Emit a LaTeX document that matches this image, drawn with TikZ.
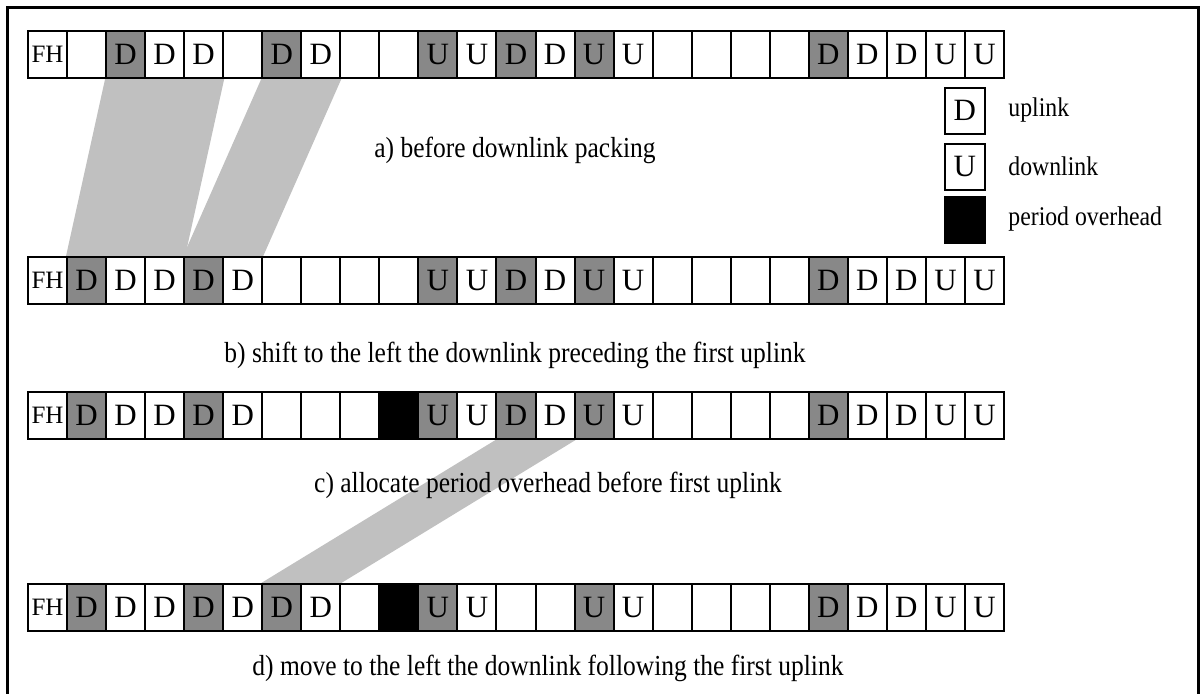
\documentclass[tikz,border=0pt]{standalone}
\usepackage{fontspec}
\setmainfont{Liberation Serif}
\newfontfamily\condfont[FakeStretch=0.88]{Liberation Serif}
\usetikzlibrary{backgrounds}
\definecolor{cellgray}{RGB}{136,136,136}
\definecolor{shadegray}{RGB}{192,192,192}
\tikzset{
  cell/.style={draw, line width=1pt, minimum width=19.52pt, minimum height=23.5pt,
    inner sep=0pt, anchor=north west, font=\fontsize{15.5}{15.5}\selectfont},
  fhcell/.style={cell, font=\fontsize{12.5}{12.5}\selectfont},
  dcell/.style={cell, fill=cellgray},
  ocell/.style={cell, fill=black},
  legbox/.style={draw, line width=0.8pt, minimum width=20pt, minimum height=23pt,
    inner sep=0pt, anchor=north west, font=\fontsize{15.5}{15.5}\selectfont},
  legtext/.style={anchor=west, inner sep=0pt, font=\condfont\fontsize{13.5}{14}\selectfont},
  caption/.style={font=\condfont\fontsize{14.5}{16}\selectfont, inner sep=0pt},
  shade/.style={fill=shadegray, draw=none},
}
\begin{document}
\begin{tikzpicture}[x=0.5pt, y=-0.5pt]
\useasboundingbox (0,0) rectangle (1200,693);
\clip (0,0) rectangle (1200,693);
\draw[line width=1.5pt] (7,7) rectangle (1198,720);

% row a
\foreach \s/\t [count=\i from 0] in {fhcell/FH, cell/, dcell/D, cell/D, cell/D, cell/, dcell/D, cell/D, cell/, cell/,
  dcell/U, cell/U, dcell/D, cell/D, dcell/U, cell/U, cell/, cell/, cell/, cell/, dcell/D, cell/D, cell/D, cell/U, cell/U}
  \node[\s] (a\i) at ({27+39.04*\i},30) {\t};
% row b
\foreach \s/\t [count=\i from 0] in {fhcell/FH, dcell/D, cell/D, cell/D, dcell/D, cell/D, cell/, cell/, cell/, cell/,
  dcell/U, cell/U, dcell/D, cell/D, dcell/U, cell/U, cell/, cell/, cell/, cell/, dcell/D, cell/D, cell/D, cell/U, cell/U}
  \node[\s] (b\i) at ({27+39.04*\i},256) {\t};
% row c
\foreach \s/\t [count=\i from 0] in {fhcell/FH, dcell/D, cell/D, cell/D, dcell/D, cell/D, cell/, cell/, cell/, ocell/,
  dcell/U, cell/U, dcell/D, cell/D, dcell/U, cell/U, cell/, cell/, cell/, cell/, dcell/D, cell/D, cell/D, cell/U, cell/U}
  \node[\s] (c\i) at ({27+39.04*\i},391) {\t};
% row d
\foreach \s/\t [count=\i from 0] in {fhcell/FH, dcell/D, cell/D, cell/D, dcell/D, cell/D, dcell/D, cell/D, cell/, ocell/,
  dcell/U, cell/U, cell/, cell/, dcell/U, cell/U, cell/, cell/, cell/, cell/, dcell/D, cell/D, cell/D, cell/U, cell/U}
  \node[\s] (d\i) at ({27+39.04*\i},583) {\t};

% shaded moves
\begin{scope}[on background layer]
  \fill[shade] (a2.south west) -- (a4.south east) -- (b3.north east) -- (b1.north west) -- cycle;
  \fill[shade] (a6.south west) -- (a7.south east) -- (b5.north east) -- (b4.north west) -- cycle;
  \fill[shade] (c12.south west) -- (c13.south east) -- (d7.north east) -- (d6.north west) -- cycle;
\end{scope}

% captions
\node[caption] (capa) at (515,150) {a) before downlink packing};
\node[caption] (capb) at (515,355) {b) shift to the left the downlink preceding the first uplink};
\node[caption] (capc) at (548,485) {c) allocate period overhead before first uplink};
\node[caption] (capd) at (548,668) {d) move to the left the downlink following the first uplink};

% legend
\node[legbox] (legD) at (944,87) {D};
\node[legbox] (legU) at (944,143) {U};
\node[legbox, fill=black] (legO) at (944,196) {};
\node[legtext] (legDt) at (1008,110) {uplink};
\node[legtext] (legUt) at (1008,166) {downlink};
\node[legtext] (legOt) at (1008,219) {period overhead};
\end{tikzpicture}
\end{document}
